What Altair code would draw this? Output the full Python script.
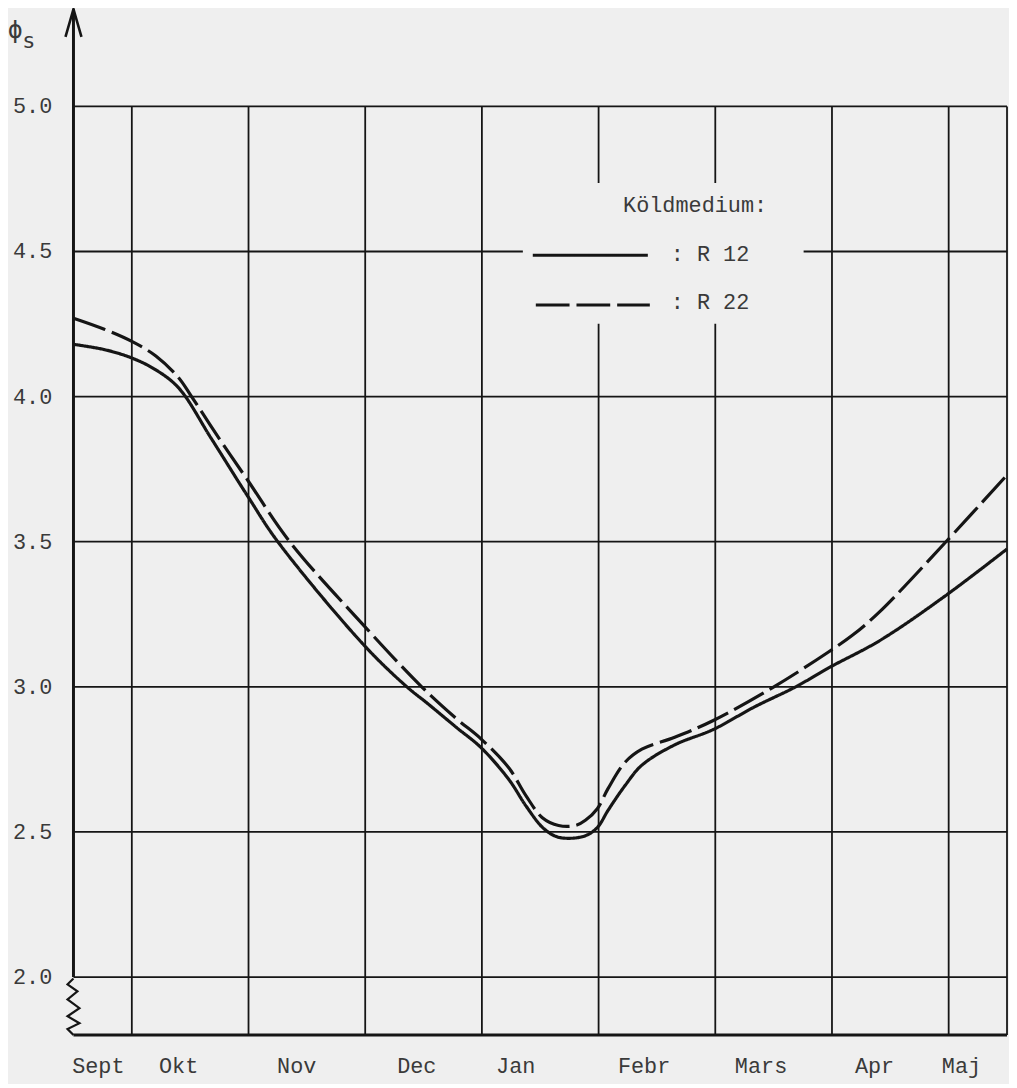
import altair as alt
import pandas as pd

# ---------------- data ----------------
months = ["Sept", "Okt", "Nov", "Dec", "Jan", "Febr", "Mars", "Apr", "Maj"]
month_label_x = [0.713, 1.401, 2.413, 3.442, 4.290, 5.390, 6.392, 7.365, 8.110]
month_lines = [1, 2, 3, 4, 5, 6, 7, 8, 8.5]
x_start, x_end = 0.5, 8.5
y_ticks = [2.0, 2.5, 3.0, 3.5, 4.0, 4.5, 5.0]
y_tick_labels = ["2.0", "2.5", "3.0", "3.5", "4.0", "4.5", "5.0"]
y_min, y_top, y_arrow = 1.8, 5.3106, 5.335

r12_x = [0.50, 0.764, 1.00, 1.206, 1.401, 1.682, 1.996, 2.251, 2.991, 3.357, 3.527,
         3.782, 3.994, 4.232, 4.377, 4.521, 4.632, 4.742, 4.887, 4.989, 5.082, 5.227,
         5.371, 5.652, 5.983, 6.332, 6.689, 6.970, 7.412, 7.973, 8.50]
r12_y = [4.18, 4.162, 4.133, 4.092, 4.03, 3.855, 3.655, 3.50, 3.143, 3.00, 2.945,
         2.86, 2.79, 2.68, 2.59, 2.515, 2.485, 2.478, 2.487, 2.515, 2.575, 2.66,
         2.73, 2.80, 2.853, 2.93, 3.00, 3.065, 3.16, 3.314, 3.475]

r22_x = [0.50, 0.764, 1.00, 1.206, 1.401, 1.512, 1.758, 1.996, 2.353, 2.991, 3.484,
         3.782, 3.994, 4.232, 4.377, 4.521, 4.657, 4.802, 4.887, 4.989, 5.082, 5.227,
         5.371, 5.652, 5.983, 6.502, 6.970, 7.183, 7.412, 7.973, 8.50]
r22_y = [4.27, 4.232, 4.19, 4.14, 4.065, 4.00, 3.85, 3.71, 3.50, 3.21, 3.00,
         2.89, 2.82, 2.72, 2.625, 2.548, 2.522, 2.522, 2.54, 2.58, 2.65, 2.74,
         2.785, 2.826, 2.884, 3.00, 3.12, 3.18, 3.26, 3.498, 3.73]

series_names = ["R 12", "R 22"]
legend_title = "Köldmedium:"
legend_labels = [": R 12", ": R 22"]

# axis-break zigzag on the y axis (between 1.8 and 2.0)
zig_x = [0.5, 0.449, 0.534, 0.449, 0.551, 0.449, 0.551, 0.449, 0.5]
zig_y = [1.995, 1.975, 1.951, 1.923, 1.893, 1.865, 1.841, 1.821, 1.800]

# ---------------- style ----------------
BG = "#efefef"
INK = "#151515"
TXT = "#3a3a3a"
FONT = "Liberation Mono"
FS = 22

x_scale = alt.Scale(domain=[x_start, x_end], nice=False, zero=False)
y_scale = alt.Scale(domain=[y_min, y_top], nice=False, zero=False)


def X(f):
    return alt.X(f, type="quantitative", scale=x_scale, axis=None)


def Y(f):
    return alt.Y(f, type="quantitative", scale=y_scale, axis=None)


# horizontal grid lines
hgrid_df = pd.DataFrame({"y": y_ticks, "x0": [x_start] * len(y_ticks), "x1": [x_end] * len(y_ticks)})
hgrid = alt.Chart(hgrid_df).mark_rule(color=INK, strokeWidth=1.8).encode(
    x=X("x0"), x2=alt.X2("x1:Q"), y=Y("y"))

# y tick labels
ylab_df = pd.DataFrame({"t": y_tick_labels, "y": y_ticks, "x": [0.318] * len(y_ticks)})
ylab = alt.Chart(ylab_df).mark_text(font=FONT, fontSize=FS, color=TXT, align="right",
                                    baseline="middle").encode(x=X("x"), y=Y("y"), text="t:N")

# vertical month lines
vgrid_df = pd.DataFrame({"x": month_lines, "y0": [y_min] * len(month_lines), "y1": [5.0] * len(month_lines)})
vgrid = alt.Chart(vgrid_df).mark_rule(color=INK, strokeWidth=1.8).encode(
    x=X("x"), y=Y("y0"), y2=alt.Y2("y1:Q"))

# legend background patch
box_df = pd.DataFrame({"x0": [4.351], "x1": [6.757], "y0": [4.251], "y1": [4.736]})
box = alt.Chart(box_df).mark_rect(fill=BG).encode(
    x=X("x0"), x2=alt.X2("x1:Q"), y=Y("y0"), y2=alt.Y2("y1:Q"))

# axis lines
yaxis_df = pd.DataFrame({"x": [x_start], "y0": [2.0], "y1": [y_arrow]})
yaxis = alt.Chart(yaxis_df).mark_rule(color=INK, strokeWidth=3).encode(
    x=X("x"), y=Y("y0"), y2=alt.Y2("y1:Q"))
xaxis_df = pd.DataFrame({"y": [y_min], "x0": [x_start], "x1": [x_end]})
xaxis = alt.Chart(xaxis_df).mark_rule(color=INK, strokeWidth=3).encode(
    x=X("x0"), x2=alt.X2("x1:Q"), y=Y("y"))

zig_df = pd.DataFrame({"x": zig_x, "y": zig_y, "i": list(range(len(zig_x)))})
zig = alt.Chart(zig_df).mark_line(color=INK, strokeWidth=2.2).encode(
    x=X("x"), y=Y("y"), order=alt.Order("i:Q"))

arrow_df = pd.DataFrame({"x": [x_start], "y": [y_arrow]})
arrow = alt.Chart(arrow_df).mark_point(
    shape="M-1.15,4L0,0L1.15,4", filled=False, size=196, color=INK, strokeWidth=2.6, opacity=1
).encode(x=X("x"), y=Y("y"))

# curves
rows = []
for name, xs, ys in [(series_names[0], r12_x, r12_y), (series_names[1], r22_x, r22_y)]:
    for i, (a, b) in enumerate(zip(xs, ys)):
        rows.append({"series": name, "x": a, "y": b, "i": i})
curve_df = pd.DataFrame(rows)
curves = alt.Chart(curve_df).mark_line(interpolate="catmull-rom", color=INK, strokeWidth=3.2).encode(
    x=X("x"), y=Y("y"),
    strokeDash=alt.StrokeDash("series:N", scale=alt.Scale(domain=series_names, range=[[1, 0], [34, 7]]),
                              legend=None),
    detail="series:N",
    order=alt.Order("i:Q"),
)

# hand-drawn legend
leg_lines_df = pd.DataFrame({"series": series_names, "x0": [4.436, 4.462], "x1": [5.422, 5.439],
                             "y": [4.487, 4.316]})
leg_lines = alt.Chart(leg_lines_df).mark_rule(color=INK, strokeWidth=3).encode(
    x=X("x0"), x2=alt.X2("x1:Q"), y=Y("y"),
    strokeDash=alt.StrokeDash("series:N", scale=alt.Scale(domain=series_names, range=[[1, 0], [34, 5]]),
                              legend=None),
)
leg_text_df = pd.DataFrame({"t": [legend_title] + legend_labels, "x": [5.210, 5.618, 5.618],
                            "y": [4.661, 4.490, 4.326]})
leg_text = alt.Chart(leg_text_df).mark_text(font=FONT, fontSize=FS, color=TXT, align="left",
                                            baseline="middle").encode(
    x=X("x"), y=Y("y"), text="t:N")

# month labels
mon_df = pd.DataFrame({"m": months, "x": month_label_x, "y": [1.6705] * len(months)})
mon = alt.Chart(mon_df).mark_text(font=FONT, fontSize=FS, color=TXT, align="center",
                                  baseline="alphabetic").encode(x=X("x"), y=Y("y"), text="m:N")

# axis title phi_s
phi_df = pd.DataFrame({"t": ["ϕ", "s"], "x": [0.0, 0.118], "y": [5.262, 5.225], "fs": [25, 22]})
phi = alt.Chart(phi_df).mark_text(font="DejaVu Sans Mono", color=TXT, align="center",
                                  baseline="middle").encode(
    x=X("x"), y=Y("y"), text="t:N", size=alt.Size("fs:Q", scale=None, legend=None))

chart = alt.layer(hgrid, vgrid, box, yaxis, xaxis, zig, arrow, curves, leg_lines, leg_text, mon,
                  ylab, phi).properties(
    width=941, height=1027,
    padding={"left": 66, "top": 4, "right": 2, "bottom": 45},
    autosize=alt.AutoSizeParams(type="none"),
    background=BG,
).configure_view(stroke=None)

chart.save("out.html", embed_options={"renderer": "svg", "actions": False})
